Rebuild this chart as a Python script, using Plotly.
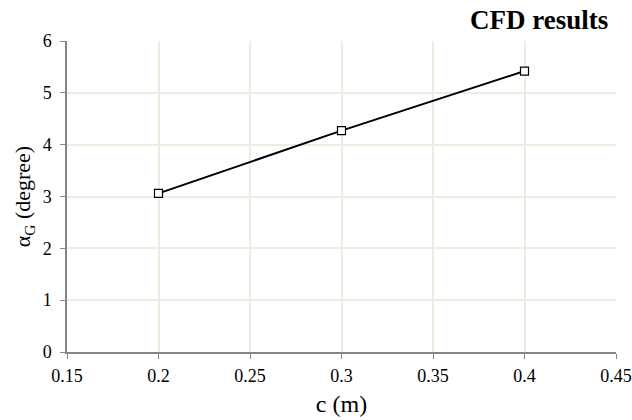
import plotly.graph_objects as go

c_m = [0.2, 0.3, 0.4]
alpha_g = [3.06, 4.27, 5.42]
x_ticks = [0.15, 0.2, 0.25, 0.3, 0.35, 0.4, 0.45]
x_tick_labels = ["0.15", "0.2", "0.25", "0.3", "0.35", "0.4", "0.45"]
y_ticks = [0, 1, 2, 3, 4, 5, 6]

fig = go.Figure()
fig.add_trace(go.Scatter(
    x=c_m, y=alpha_g, mode="lines+markers",
    line=dict(color="black", width=2),
    marker=dict(symbol="square", size=8, color="white",
                line=dict(color="black", width=1.2)),
    showlegend=False,
))

font = "Liberation Serif, Times New Roman, serif"
axis_common = dict(
    showline=True, linecolor="#868686", linewidth=1.5,
    ticks="outside", ticklen=5, tickcolor="#868686",
    showgrid=True, gridcolor="#EEEBDF", gridwidth=1.5,
    zeroline=False, automargin=False,
    tickfont=dict(family=font, size=18, color="black"),
)
L, R, T, B = 67, 16, 41, 68
fig.update_layout(
    width=632, height=420,
    margin=dict(l=L, r=R, t=T, b=B),
    paper_bgcolor="white", plot_bgcolor="white",
    font=dict(family=font, color="black"),
    xaxis=dict(range=[0.15, 0.45], tickvals=x_ticks, ticktext=x_tick_labels,
               ticklabelstandoff=2,
               title=dict(text="c (m)", font=dict(family=font, size=24), standoff=10),
               **axis_common),
    yaxis=dict(range=[0, 6], tickvals=y_ticks, ticklabelstandoff=5,
               title=dict(text="α<sub>G</sub> (degree)", font=dict(family=font, size=22), standoff=6),
               **axis_common),
    annotations=[dict(text="<b>CFD results</b>", x=(610 - L) / (632 - L - R), xref="paper",
                      xanchor="right", y=1.0, yref="paper", yanchor="bottom", yshift=4,
                      showarrow=False, font=dict(family=font, size=27, color="black"))],
)
fig.write_html("out.html")
